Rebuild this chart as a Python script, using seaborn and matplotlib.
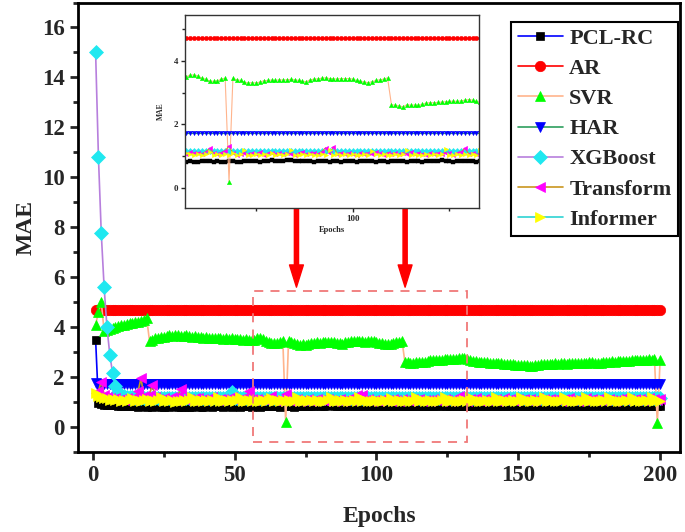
import numpy as np
import seaborn as sns
import matplotlib
matplotlib.use("Agg")
from matplotlib import pyplot as plt
from matplotlib.patches import Rectangle
from matplotlib.ticker import MultipleLocator, FixedLocator

# MAE per epoch
epochs = list(range(1, 201))

pcl_rc = [
    3.50, 0.95, 0.92, 0.90, 0.89, 0.88, 0.88, 0.87, 0.86, 0.86,
    0.85, 0.84, 0.85, 0.83, 0.84, 0.82, 0.83, 0.84, 0.82, 0.83,
    0.82, 0.84, 0.83, 0.82, 0.81, 0.83, 0.82, 0.84, 0.83, 0.82,
    0.81, 0.82, 0.83, 0.81, 0.82, 0.84, 0.83, 0.82, 0.81, 0.83,
    0.84, 0.82, 0.83, 0.85, 0.83, 0.82, 0.84, 0.83, 0.82, 0.84,
    0.83, 0.82, 0.84, 0.85, 0.83, 0.82, 0.83, 0.84, 0.82, 0.83,
    0.84, 0.86, 0.85, 0.83, 0.84, 0.82, 0.83, 0.85, 0.84, 0.83,
    0.82, 0.84, 0.85, 0.86, 0.84, 0.83, 0.85, 0.86, 0.87, 0.85,
    0.84, 0.86, 0.88, 0.87, 0.85, 0.84, 0.86, 0.85, 0.84, 0.83,
    0.85, 0.86, 0.84, 0.83, 0.85, 0.84, 0.83, 0.85, 0.86, 0.84,
    0.83, 0.85, 0.84, 0.86, 0.85, 0.83, 0.84, 0.85, 0.83, 0.84,
    0.86, 0.85, 0.84, 0.83, 0.85, 0.86, 0.84, 0.83, 0.84, 0.85,
    0.84, 0.86, 0.87, 0.85, 0.84, 0.83, 0.85, 0.84, 0.86, 0.85,
    0.84, 0.83, 0.85, 0.84, 0.86, 0.85, 0.83, 0.84, 0.85, 0.84,
    0.83, 0.85, 0.84, 0.83, 0.85, 0.84, 0.86, 0.84, 0.83, 0.85,
    0.84, 0.83, 0.85, 0.86, 0.84, 0.83, 0.84, 0.85, 0.84, 0.83,
    0.85, 0.84, 0.83, 0.84, 0.85, 0.83, 0.84, 0.86, 0.85, 0.84,
    0.83, 0.84, 0.85, 0.84, 0.83, 0.85, 0.84, 0.83, 0.85, 0.84,
    0.86, 0.84, 0.83, 0.84, 0.85, 0.84, 0.83, 0.85, 0.84, 0.83,
    0.84, 0.85, 0.83, 0.84, 0.86, 0.84, 0.83, 0.85, 0.84, 0.85,
]

# AR and HAR are flat lines in the figure
ar_level = 4.70
har_first = 1.75
har_level = 1.72
ar = [ar_level] * len(epochs)
har = [har_first] + [har_level] * (len(epochs) - 1)

svr = [
    4.10, 4.60, 5.00, 3.85, 3.90, 3.92, 3.98, 4.00, 4.05, 4.08,
    4.10, 4.12, 4.15, 4.18, 4.20, 4.22, 4.25, 4.30, 4.35, 3.45,
    3.50, 3.55, 3.58, 3.60, 3.62, 3.65, 3.68, 3.66, 3.70, 3.68,
    3.66, 3.65, 3.67, 3.64, 3.62, 3.63, 3.60, 3.61, 3.58, 3.60,
    3.57, 3.58, 3.55, 3.56, 3.57, 3.54, 3.55, 3.53, 3.56, 3.54,
    3.52, 3.53, 3.50, 3.52, 3.50, 3.48, 3.50, 3.55, 3.55, 3.52,
    3.45, 3.42, 3.36, 3.35, 3.37, 3.42, 3.45, 0.20, 3.45, 3.40,
    3.38, 3.32, 3.30, 3.31, 3.30, 3.33, 3.37, 3.38, 3.39, 3.38,
    3.40, 3.39, 3.40, 3.41, 3.40, 3.38, 3.35, 3.34, 3.40, 3.42,
    3.43, 3.45, 3.46, 3.44, 3.43, 3.42, 3.44, 3.43, 3.44, 3.42,
    3.38, 3.35, 3.33, 3.31, 3.34, 3.38, 3.40, 3.42, 3.46, 2.62,
    2.60, 2.58, 2.55, 2.62, 2.60, 2.61, 2.60, 2.63, 2.67, 2.68,
    2.68, 2.69, 2.70, 2.71, 2.72, 2.73, 2.72, 2.74, 2.76, 2.78,
    2.76, 2.72, 2.70, 2.66, 2.64, 2.62, 2.60, 2.61, 2.59, 2.58,
    2.57, 2.56, 2.55, 2.56, 2.54, 2.53, 2.52, 2.51, 2.50, 2.49,
    2.50, 2.48, 2.47, 2.46, 2.45, 2.47, 2.50, 2.52, 2.51, 2.53,
    2.52, 2.54, 2.55, 2.53, 2.56, 2.55, 2.54, 2.57, 2.56, 2.55,
    2.57, 2.56, 2.55, 2.58, 2.60, 2.59, 2.57, 2.56, 2.58, 2.60,
    2.61, 2.62, 2.63, 2.61, 2.64, 2.63, 2.65, 2.66, 2.64, 2.67,
    2.68, 2.67, 2.69, 2.70, 2.68, 2.71, 2.70, 2.72, 0.16, 2.70,
]

xgboost = [
    15.00, 10.80, 7.75, 5.60, 4.00, 2.90, 2.15, 1.65, 1.42, 1.30,
    1.25, 1.22, 1.20, 1.19, 1.18, 1.18, 1.17, 1.18, 1.17, 1.16,
    1.17, 1.16, 1.18, 1.17, 1.16, 1.17, 1.18, 1.16, 1.17, 1.16,
    1.17, 1.18, 1.16, 1.17, 1.16, 1.18, 1.17, 1.16, 1.17, 1.18,
    1.16, 1.17, 1.18, 1.17, 1.16, 1.17, 1.18, 1.20, 1.40, 1.18,
    1.17, 1.16, 1.17, 1.18, 1.16, 1.17, 1.16, 1.18, 1.17, 1.16,
    1.17, 1.16, 1.18, 1.17, 1.16, 1.17, 1.18, 1.16, 1.17, 1.16,
    1.17, 1.18, 1.16, 1.17, 1.16, 1.18, 1.17, 1.16, 1.17, 1.18,
    1.16, 1.17, 1.18, 1.17, 1.16, 1.17, 1.18, 1.16, 1.17, 1.16,
    1.17, 1.16, 1.18, 1.17, 1.16, 1.17, 1.18, 1.16, 1.17, 1.16,
    1.16, 1.17, 1.18, 1.16, 1.17, 1.16, 1.18, 1.17, 1.16, 1.17,
    1.18, 1.16, 1.17, 1.16, 1.17, 1.18, 1.16, 1.17, 1.18, 1.16,
    1.17, 1.16, 1.18, 1.17, 1.16, 1.17, 1.18, 1.16, 1.17, 1.16,
    1.16, 1.17, 1.18, 1.16, 1.17, 1.16, 1.18, 1.17, 1.16, 1.17,
    1.18, 1.16, 1.17, 1.16, 1.17, 1.18, 1.16, 1.17, 1.18, 1.16,
    1.17, 1.16, 1.18, 1.17, 1.16, 1.17, 1.18, 1.16, 1.17, 1.16,
    1.16, 1.17, 1.18, 1.16, 1.17, 1.16, 1.18, 1.17, 1.16, 1.17,
    1.18, 1.16, 1.17, 1.16, 1.17, 1.18, 1.16, 1.17, 1.18, 1.16,
    1.17, 1.16, 1.18, 1.17, 1.16, 1.17, 1.18, 1.16, 1.17, 1.16,
    1.16, 1.17, 1.18, 1.16, 1.17, 1.16, 1.18, 1.17, 1.16, 1.17,
]

transform = [
    1.35, 1.45, 1.82, 1.30, 1.20, 1.15, 1.12, 1.18, 1.10, 1.14,
    1.08, 1.15, 1.12, 1.10, 1.20, 1.45, 1.95, 1.25, 1.15, 1.30,
    1.70, 1.20, 1.12, 1.10, 1.16, 1.08, 1.14, 1.20, 1.10, 1.25,
    1.53, 1.15, 1.10, 1.12, 1.08, 1.15, 1.18, 1.10, 1.12, 1.09,
    1.15, 1.20, 1.10, 1.08, 1.14, 1.12, 1.10, 1.16, 1.22, 1.10,
    1.08, 1.12, 1.15, 1.10, 1.46, 1.12, 1.08, 1.14, 1.10, 1.12,
    1.08, 1.15, 1.25, 1.10, 1.06, 1.12, 1.18, 1.32, 1.10, 1.05,
    1.08, 1.12, 1.06, 1.10, 1.08, 1.14, 1.05, 1.09, 1.12, 1.07,
    1.10, 1.06, 1.12, 1.08, 1.05, 1.10, 1.14, 1.06, 1.09, 1.12,
    1.08, 1.15, 1.27, 1.10, 1.30, 1.08, 1.12, 1.06, 1.10, 1.08,
    1.05, 1.12, 1.08, 1.10, 1.06, 1.14, 1.09, 1.05, 1.12, 1.08,
    1.10, 1.06, 1.12, 1.08, 1.14, 1.06, 1.10, 1.08, 1.05, 1.12,
    1.08, 1.10, 1.06, 1.12, 1.09, 1.05, 1.10, 1.14, 1.25, 1.08,
    1.10, 1.06, 1.12, 1.08, 1.15, 1.10, 1.06, 1.12, 1.09, 1.14,
    1.08, 1.12, 1.06, 1.10, 1.15, 1.08, 1.12, 1.10, 1.06, 1.13,
    1.09, 1.14, 1.08, 1.12, 1.06, 1.10, 1.15, 1.08, 1.11, 1.07,
    1.12, 1.08, 1.14, 1.10, 1.06, 1.12, 1.09, 1.15, 1.08, 1.10,
    1.06, 1.12, 1.10, 1.16, 1.08, 1.11, 1.07, 1.13, 1.09, 1.12,
    1.08, 1.14, 1.10, 1.06, 1.12, 1.09, 1.15, 1.08, 1.11, 1.07,
    1.12, 1.09, 1.14, 1.08, 1.11, 1.16, 1.08, 1.12, 1.10, 1.13,
]

informer = [
    1.35, 1.25, 1.20, 1.15, 1.18, 1.10, 1.14, 1.08, 1.12, 1.06,
    1.10, 1.04, 1.08, 1.18, 1.06, 1.10, 1.04, 1.08, 1.12, 1.05,
    1.09, 1.03, 1.07, 1.20, 1.05, 1.09, 1.04, 1.08, 1.02, 1.06,
    1.05, 1.08, 1.03, 1.07, 1.22, 1.06, 1.04, 1.09, 1.03, 1.07,
    1.05, 1.10, 1.04, 1.20, 1.06, 1.03, 1.08, 1.05, 1.09, 1.04,
    1.07, 1.21, 1.05, 1.03, 1.08, 1.04, 1.09, 1.06, 1.03, 1.07,
    1.05, 1.08, 1.15, 1.04, 1.07, 1.03, 1.08, 1.05, 1.09, 1.04,
    1.06, 1.20, 1.05, 1.03, 1.08, 1.04, 1.07, 1.05, 1.09, 1.03,
    1.06, 1.04, 1.08, 1.19, 1.05, 1.03, 1.07, 1.04, 1.08, 1.05,
    1.03, 1.07, 1.05, 1.20, 1.04, 1.08, 1.03, 1.06, 1.04, 1.08,
    1.05, 1.03, 1.07, 1.04, 1.18, 1.06, 1.03, 1.08, 1.05, 1.04,
    1.07, 1.03, 1.06, 1.19, 1.04, 1.08, 1.05, 1.03, 1.07, 1.04,
    1.06, 1.03, 1.08, 1.22, 1.05, 1.04, 1.07, 1.03, 1.06, 1.04,
    1.08, 1.05, 1.20, 1.03, 1.07, 1.04, 1.06, 1.03, 1.08, 1.05,
    1.04, 1.19, 1.06, 1.03, 1.08, 1.05, 1.04, 1.07, 1.03, 1.06,
    1.21, 1.04, 1.08, 1.05, 1.03, 1.07, 1.04, 1.06, 1.20, 1.05,
    1.03, 1.08, 1.04, 1.06, 1.03, 1.19, 1.05, 1.07, 1.04, 1.06,
    1.03, 1.08, 1.05, 1.20, 1.04, 1.07, 1.03, 1.06, 1.04, 1.08,
    1.05, 1.21, 1.03, 1.07, 1.04, 1.06, 1.03, 1.08, 1.05, 1.19,
    1.04, 1.07, 1.03, 1.06, 1.08, 1.04, 1.20, 1.05, 1.07, 1.04,
]

model_names = ['PCL-RC', 'AR', 'SVR', 'HAR', 'XGBoost', 'Transform', 'Informer']
model_values = [pcl_rc, ar, svr, har, xgboost, transform, informer]
for v in model_values:
    assert len(v) == len(epochs)

# styles: line colour, marker, marker colour, marker size
line_colors = ['#0000FF', '#FF0000', '#FFB48C', '#2E9E5E', '#B77FDD', '#C9961F', '#2ED3D3']
markers = ['s', 'o', '^', 'v', 'D', '<', '>']
marker_colors = ['#000000', '#FF0000', '#00FF00', '#0000FF', '#1FE8F0', '#FF00FF', '#FFFF00']
marker_sizes = [6, 7.5, 7.5, 7.5, 7.5, 7.5, 7.5]

sns.set_style('ticks')
plt.rcParams['font.family'] = ['Liberation Serif', 'DejaVu Serif']
plt.rcParams['font.weight'] = 'bold'
plt.rcParams['axes.labelweight'] = 'bold'

fig = plt.figure(figsize=(6.85, 5.32), dpi=100)
ax = fig.add_axes([0.1139, 0.1504, 0.8788, 0.8449])

for name, vals, lc, m, mc, ms in zip(model_names, model_values, line_colors,
                                     markers, marker_colors, marker_sizes):
    sns.lineplot(x=epochs, y=vals, ax=ax, color=lc, linewidth=1.2,
                 marker=m, markersize=ms, markerfacecolor=mc,
                 markeredgecolor=mc, markeredgewidth=0.5, label=name)

ax.set_xlim(-5.2, 207)
ax.set_xticks([0, 50, 100, 150, 200])
ax.xaxis.set_minor_locator(FixedLocator([25, 75, 125, 175]))
ax.set_yticks(range(0, 17, 2))
ax.yaxis.set_minor_locator(MultipleLocator(1))
ax.set_ylim(-1, 17)
ax.tick_params(which='major', direction='out', length=6, width=2, labelsize=16.5)
ax.tick_params(which='minor', direction='out', length=3.5, width=2)
for sp in ax.spines.values():
    sp.set_linewidth(2)
    sp.set_color('black')
ax.set_xlabel('Epochs', fontsize=17, fontweight='bold', labelpad=14)
ax.set_ylabel('MAE', fontsize=17, fontweight='bold', labelpad=4)

leg = ax.legend(loc='upper right', bbox_to_anchor=(0.997, 0.957),
                frameon=True, fancybox=False, edgecolor='black', framealpha=1,
                borderaxespad=0, labelspacing=0.43, handlelength=2.0,
                handletextpad=0.3, borderpad=0.3,
                prop={'weight': 'bold', 'size': 16})
leg.get_frame().set_linewidth(1.5)

# zoomed region marker
box_x0, box_x1 = 56.6, 132.0
box_y0, box_y1 = -0.62, 5.44
ax.add_patch(Rectangle((box_x0, box_y0), box_x1 - box_x0, box_y1 - box_y0,
                       fill=False, edgecolor='#F07878', linestyle=(0, (5, 4)),
                       linewidth=1.3, zorder=10))

# red arrows from the inset down to the box
for xa in [71.8, 110.1]:
    ax.annotate('', xy=(xa, 5.6), xytext=(xa, 8.75),
                arrowprops=dict(facecolor='#FF0000', edgecolor='#FF0000',
                                width=3, headwidth=10, headlength=16),
                zorder=11)

# inset
axin = fig.add_axes([0.270, 0.609, 0.429, 0.3633])
for name, vals, lc, m, mc, ms in zip(model_names, model_values, line_colors,
                                     markers, marker_colors, marker_sizes):
    sns.lineplot(x=epochs, y=vals, ax=axin, color=lc, linewidth=0.8,
                 marker=m, markersize=ms * 0.42, markerfacecolor=mc,
                 markeredgecolor=mc, markeredgewidth=0.3, legend=False)
axin.set_xlim(box_x0, box_x1 + 0.6)
axin.set_ylim(box_y0, box_y1)
axin.set_xticks([100])
axin.xaxis.set_minor_locator(FixedLocator([75, 125]))
axin.set_yticks([0, 2, 4])
axin.yaxis.set_minor_locator(FixedLocator([1, 3, 5]))
axin.tick_params(which='major', direction='out', length=3, width=1, labelsize=6.5, pad=2)
axin.tick_params(which='minor', direction='out', length=2, width=1)
for sp in axin.spines.values():
    sp.set_linewidth(1)
    sp.set_color('#333333')
axin.set_xlabel('Epochs', fontsize=6, fontweight='bold', labelpad=2)
axin.set_ylabel('MAE', fontsize=5.5, fontweight='bold', labelpad=6)

fig.savefig('out.png', dpi=100)
